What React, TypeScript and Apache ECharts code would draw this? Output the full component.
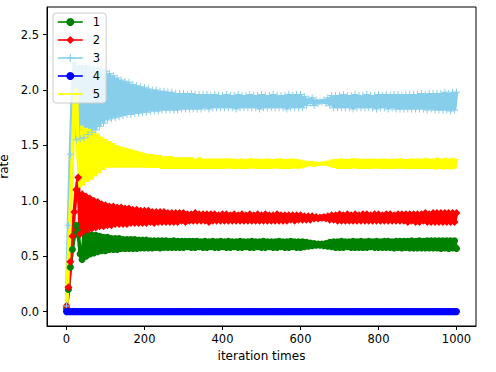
import React, { useEffect, useRef } from "react";
import * as echarts from "echarts";

// iteration step between stored samples
const ITER_STEP = 5;

const seriesNames = ["1", "2", "3", "4", "5"];
const xTicks = [0, 200, 400, 600, 800, 1000];
const yTicks = [0, 0.5, 1.0, 1.5, 2.0, 2.5];

const green = [
  0.03, 0.20, 0.40, 0.56, 0.69, 0.78, 0.72, 0.52, 0.47, 0.71,
  0.50, 0.70, 0.52, 0.69, 0.53, 0.69, 0.54, 0.68, 0.55, 0.67,
  0.55, 0.67, 0.56, 0.66, 0.56, 0.66, 0.56, 0.66, 0.57, 0.65,
  0.57, 0.65, 0.57, 0.65, 0.57, 0.65, 0.57, 0.645, 0.575, 0.645,
  0.575, 0.645, 0.575, 0.64, 0.575, 0.64, 0.58, 0.64, 0.575, 0.64,
  0.58, 0.64, 0.58, 0.635, 0.58, 0.64, 0.58, 0.635, 0.58, 0.635,
  0.58, 0.635, 0.585, 0.635, 0.58, 0.635, 0.58, 0.635, 0.585, 0.63,
  0.58, 0.635, 0.58, 0.63, 0.585, 0.635, 0.58, 0.63, 0.58, 0.635,
  0.585, 0.63, 0.58, 0.635, 0.58, 0.63, 0.585, 0.63, 0.58, 0.635,
  0.58, 0.63, 0.585, 0.63, 0.58, 0.635, 0.58, 0.63, 0.585, 0.63,
  0.58, 0.635, 0.58, 0.63, 0.585, 0.63, 0.58, 0.63, 0.58, 0.635,
  0.585, 0.63, 0.58, 0.63, 0.58, 0.635, 0.585, 0.63, 0.58, 0.63,
  0.58, 0.63, 0.585, 0.625, 0.59, 0.62, 0.595, 0.615, 0.60, 0.61,
  0.60, 0.61, 0.595, 0.615, 0.59, 0.625, 0.585, 0.63, 0.58, 0.63,
  0.58, 0.635, 0.58, 0.63, 0.585, 0.63, 0.58, 0.635, 0.58, 0.63,
  0.58, 0.635, 0.58, 0.63, 0.58, 0.635, 0.585, 0.63, 0.58, 0.635,
  0.58, 0.63, 0.58, 0.635, 0.58, 0.635, 0.58, 0.63, 0.575, 0.635,
  0.58, 0.635, 0.575, 0.635, 0.58, 0.635, 0.575, 0.64, 0.575, 0.635,
  0.575, 0.64, 0.575, 0.635, 0.575, 0.64, 0.575, 0.64, 0.575, 0.64,
  0.575, 0.64, 0.57, 0.64, 0.575, 0.64, 0.57, 0.64, 0.575, 0.64,
  0.57,
];

const red = [
  0.05, 0.22, 0.45, 0.68, 0.90, 1.10, 1.21, 0.70, 1.06, 0.73,
  1.04, 0.74, 1.02, 0.75, 1.00, 0.76, 0.99, 0.77, 0.97, 0.77,
  0.96, 0.78, 0.95, 0.78, 0.95, 0.79, 0.94, 0.79, 0.94, 0.79,
  0.93, 0.79, 0.93, 0.80, 0.92, 0.80, 0.92, 0.80, 0.91, 0.80,
  0.91, 0.80, 0.91, 0.81, 0.90, 0.80, 0.90, 0.81, 0.90, 0.81,
  0.90, 0.81, 0.89, 0.81, 0.89, 0.81, 0.89, 0.81, 0.89, 0.82,
  0.89, 0.81, 0.88, 0.82, 0.88, 0.82, 0.89, 0.82, 0.88, 0.82,
  0.88, 0.82, 0.88, 0.81, 0.88, 0.82, 0.88, 0.82, 0.87, 0.82,
  0.88, 0.82, 0.88, 0.82, 0.87, 0.82, 0.88, 0.82, 0.87, 0.82,
  0.88, 0.82, 0.87, 0.82, 0.88, 0.82, 0.87, 0.82, 0.88, 0.82,
  0.87, 0.82, 0.88, 0.82, 0.87, 0.82, 0.87, 0.82, 0.88, 0.82,
  0.87, 0.82, 0.87, 0.82, 0.87, 0.83, 0.87, 0.82, 0.87, 0.83,
  0.87, 0.83, 0.86, 0.83, 0.86, 0.83, 0.86, 0.84, 0.855, 0.84,
  0.85, 0.845, 0.855, 0.84, 0.86, 0.83, 0.87, 0.83, 0.87, 0.82,
  0.88, 0.82, 0.87, 0.82, 0.88, 0.82, 0.87, 0.82, 0.88, 0.82,
  0.87, 0.82, 0.88, 0.82, 0.88, 0.82, 0.87, 0.82, 0.88, 0.82,
  0.88, 0.82, 0.87, 0.82, 0.88, 0.82, 0.88, 0.82, 0.87, 0.82,
  0.88, 0.82, 0.88, 0.82, 0.88, 0.81, 0.88, 0.82, 0.88, 0.81,
  0.88, 0.81, 0.88, 0.82, 0.89, 0.81, 0.88, 0.81, 0.89, 0.81,
  0.89, 0.81, 0.89, 0.81, 0.89, 0.81, 0.89, 0.81, 0.89, 0.81,
  0.89,
];

const skyblue = [
  0.05, 0.78, 1.42, 1.98, 2.25, 1.55, 2.22, 1.56, 2.22, 1.57,
  2.22, 1.60, 2.21, 1.62, 2.20, 1.64, 2.20, 1.67, 2.19, 1.70,
  2.17, 1.73, 2.15, 1.74, 2.13, 1.75, 2.11, 1.76, 2.09, 1.77,
  2.08, 1.78, 2.07, 1.78, 2.05, 1.79, 2.04, 1.79, 2.03, 1.80,
  2.02, 1.80, 2.01, 1.81, 2.00, 1.81, 2.00, 1.81, 1.99, 1.82,
  1.99, 1.82, 1.98, 1.82, 1.98, 1.82, 1.97, 1.82, 1.97, 1.83,
  1.97, 1.83, 1.96, 1.83, 1.97, 1.83, 1.96, 1.83, 1.96, 1.83,
  1.96, 1.84, 1.96, 1.83, 1.95, 1.84, 1.96, 1.84, 1.95, 1.84,
  1.95, 1.84, 1.96, 1.84, 1.95, 1.84, 1.95, 1.83, 1.96, 1.84,
  1.95, 1.84, 1.95, 1.84, 1.96, 1.84, 1.95, 1.84, 1.95, 1.83,
  1.96, 1.84, 1.95, 1.84, 1.95, 1.84, 1.96, 1.84, 1.95, 1.84,
  1.95, 1.84, 1.95, 1.83, 1.96, 1.84, 1.95, 1.84, 1.96, 1.84,
  1.96, 1.84, 1.94, 1.86, 1.92, 1.88, 1.93, 1.86, 1.91, 1.88,
  1.90, 1.89, 1.91, 1.88, 1.93, 1.86, 1.95, 1.84, 1.95, 1.84,
  1.95, 1.84, 1.96, 1.84, 1.95, 1.84, 1.95, 1.83, 1.96, 1.84,
  1.95, 1.84, 1.95, 1.84, 1.96, 1.84, 1.95, 1.84, 1.95, 1.83,
  1.96, 1.84, 1.95, 1.84, 1.96, 1.83, 1.95, 1.84, 1.96, 1.83,
  1.96, 1.83, 1.95, 1.83, 1.96, 1.83, 1.96, 1.83, 1.96, 1.83,
  1.96, 1.83, 1.97, 1.83, 1.96, 1.82, 1.97, 1.83, 1.97, 1.82,
  1.97, 1.82, 1.97, 1.82, 1.98, 1.82, 1.97, 1.81, 1.98, 1.82,
  1.98,
];

const blue = [
  0, 0, 0, 0, 0, 0, 0, 0, 0, 0,
  0, 0, 0, 0, 0, 0, 0, 0, 0, 0,
  0, 0, 0, 0, 0, 0, 0, 0, 0, 0,
  0, 0, 0, 0, 0, 0, 0, 0, 0, 0,
  0, 0, 0, 0, 0, 0, 0, 0, 0, 0,
  0, 0, 0, 0, 0, 0, 0, 0, 0, 0,
  0, 0, 0, 0, 0, 0, 0, 0, 0, 0,
  0, 0, 0, 0, 0, 0, 0, 0, 0, 0,
  0, 0, 0, 0, 0, 0, 0, 0, 0, 0,
  0, 0, 0, 0, 0, 0, 0, 0, 0, 0,
  0, 0, 0, 0, 0, 0, 0, 0, 0, 0,
  0, 0, 0, 0, 0, 0, 0, 0, 0, 0,
  0, 0, 0, 0, 0, 0, 0, 0, 0, 0,
  0, 0, 0, 0, 0, 0, 0, 0, 0, 0,
  0, 0, 0, 0, 0, 0, 0, 0, 0, 0,
  0, 0, 0, 0, 0, 0, 0, 0, 0, 0,
  0, 0, 0, 0, 0, 0, 0, 0, 0, 0,
  0, 0, 0, 0, 0, 0, 0, 0, 0, 0,
  0, 0, 0, 0, 0, 0, 0, 0, 0, 0,
  0, 0, 0, 0, 0, 0, 0, 0, 0, 0,
  0,
];

const yellow = [
  0.04, 0.45, 0.92, 1.42, 1.88, 2.02, 1.40, 1.12, 1.68, 1.14,
  1.66, 1.17, 1.65, 1.19, 1.63, 1.22, 1.61, 1.25, 1.58, 1.28,
  1.56, 1.30, 1.54, 1.30, 1.52, 1.30, 1.50, 1.30, 1.49, 1.30,
  1.48, 1.30, 1.47, 1.30, 1.46, 1.30, 1.45, 1.30, 1.44, 1.30,
  1.43, 1.30, 1.42, 1.30, 1.42, 1.30, 1.41, 1.30, 1.41, 1.29,
  1.40, 1.29, 1.40, 1.29, 1.40, 1.29, 1.39, 1.29, 1.39, 1.29,
  1.39, 1.29, 1.39, 1.29, 1.39, 1.29, 1.38, 1.29, 1.39, 1.29,
  1.38, 1.29, 1.38, 1.29, 1.38, 1.29, 1.38, 1.29, 1.38, 1.29,
  1.38, 1.29, 1.38, 1.295, 1.38, 1.29, 1.38, 1.29, 1.375, 1.29,
  1.38, 1.29, 1.375, 1.29, 1.38, 1.295, 1.38, 1.29, 1.38, 1.29,
  1.375, 1.29, 1.38, 1.29, 1.38, 1.29, 1.375, 1.295, 1.38, 1.29,
  1.38, 1.29, 1.375, 1.29, 1.38, 1.29, 1.38, 1.295, 1.375, 1.29,
  1.37, 1.30, 1.36, 1.31, 1.35, 1.32, 1.355, 1.315, 1.345, 1.325,
  1.34, 1.33, 1.345, 1.325, 1.355, 1.315, 1.37, 1.30, 1.375, 1.29,
  1.38, 1.29, 1.38, 1.29, 1.375, 1.29, 1.38, 1.295, 1.38, 1.29,
  1.38, 1.29, 1.375, 1.29, 1.38, 1.29, 1.38, 1.29, 1.38, 1.295,
  1.375, 1.29, 1.38, 1.29, 1.38, 1.29, 1.375, 1.29, 1.38, 1.29,
  1.38, 1.295, 1.38, 1.29, 1.375, 1.29, 1.38, 1.29, 1.38, 1.29,
  1.38, 1.29, 1.38, 1.29, 1.385, 1.29, 1.38, 1.29, 1.38, 1.285,
  1.385, 1.29, 1.38, 1.285, 1.385, 1.29, 1.38, 1.285, 1.385, 1.29,
  1.38,
];

const FONT = "DejaVu Sans";
const FS = 11.5;
const PLUS = "path://M4.3,0H5.7V4.3H10V5.7H5.7V10H4.3V5.7H0V4.3H4.3Z";

function toPairs(values: number[]) {
  return values.map((v, i) => [i * ITER_STEP, v]);
}

export default function App() {
  const ref = useRef<HTMLDivElement>(null);
  useEffect(() => {
    if (!ref.current) return;
    const chart = echarts.init(ref.current, undefined, { renderer: "svg" });
    const base = {
      type: "line",
      showAllSymbol: true,
      animation: false,
    };
    const colors = ["#008000", "#ff0000", "#87ceeb", "#0000ff", "#ffff00"];
    chart.setOption({
      animation: false,
      textStyle: { fontFamily: FONT },
      grid: {
        left: 47,
        right: 20,
        top: 7,
        bottom: 46,
        containLabel: false,
        outerBoundsMode: "none",
        show: true,
        borderColor: "#000",
        borderWidth: 1,
        backgroundColor: "transparent",
      },
      legend: {
        orient: "vertical",
        left: 53,
        top: 13,
        itemWidth: 25,
        itemHeight: 10,
        itemGap: 6,
        padding: [3, 6, 3, 4],
        backgroundColor: "rgba(255,255,255,0.8)",
        borderColor: "#cccccc",
        borderWidth: 1,
        borderRadius: 3,
        textStyle: { fontFamily: FONT, fontSize: FS, color: "#000", padding: [0, 0, 0, 5] },
        data: seriesNames.map((n, i) =>
          i === 4
            ? { name: n, itemStyle: { opacity: 0 }, lineStyle: { width: 1.6 } }
            : { name: n, lineStyle: { width: 1.6 } }
        ),
      },
      xAxis: {
        type: "value",
        min: -50,
        max: 1050,
        name: "iteration times",
        nameLocation: "middle",
        nameGap: 24,
        nameTextStyle: { fontFamily: FONT, fontSize: 12, color: "#000" },
        axisLine: { onZero: false, lineStyle: { color: "#000" } },
        axisTick: { show: true, length: 4, inside: false, customValues: xTicks, lineStyle: { color: "#000" } },
        axisLabel: {
          customValues: xTicks,
          margin: 7,
          fontFamily: FONT,
          fontSize: FS,
          color: "#000",
          formatter: (v: number) => String(v),
        },
        splitLine: { show: false },
      },
      yAxis: {
        type: "value",
        min: -0.13,
        max: 2.75,
        name: "rate",
        nameLocation: "middle",
        nameGap: 28,
        nameRotate: 90,
        nameTextStyle: { fontFamily: FONT, fontSize: 12, lineHeight: 12, color: "#000" },
        axisLine: { show: true, onZero: false, lineStyle: { color: "#000" } },
        axisTick: { show: true, length: 4, customValues: yTicks, lineStyle: { color: "#000" } },
        axisLabel: {
          customValues: yTicks,
          margin: 8,
          fontFamily: FONT,
          fontSize: FS,
          color: "#000",
          formatter: (v: number) => v.toFixed(1),
        },
        splitLine: { show: false },
      },
      series: [
        {
          ...base,
          name: "1",
          data: toPairs(green),
          symbol: "circle",
          symbolSize: 7,
          itemStyle: { color: colors[0] },
          lineStyle: { width: 3.6, color: colors[0], join: "bevel" },
        },
        {
          ...base,
          name: "2",
          data: toPairs(red),
          symbol: "diamond",
          symbolSize: 8,
          itemStyle: { color: colors[1] },
          lineStyle: { width: 3.6, color: colors[1], join: "bevel" },
        },
        {
          ...base,
          name: "3",
          data: toPairs(skyblue),
          symbol: PLUS,
          symbolSize: 7,
          itemStyle: { color: colors[2] },
          lineStyle: { width: 3.6, color: colors[2], join: "bevel" },
        },
        {
          ...base,
          name: "4",
          data: toPairs(blue),
          symbol: "circle",
          symbolSize: 7,
          itemStyle: { color: colors[3] },
          lineStyle: { width: 3, color: colors[3], join: "bevel" },
        },
        {
          ...base,
          name: "5",
          data: toPairs(yellow),
          symbol: "none",
          itemStyle: { color: colors[4] },
          lineStyle: { width: 3.8, color: colors[4], join: "bevel" },
        },
      ],
    });
    return () => chart.dispose();
  }, []);
  return (
    <div
      ref={ref}
      style={{ position: "fixed", left: 0, top: 0, width: 496, height: 372, background: "#fff" }}
    />
  );
}
